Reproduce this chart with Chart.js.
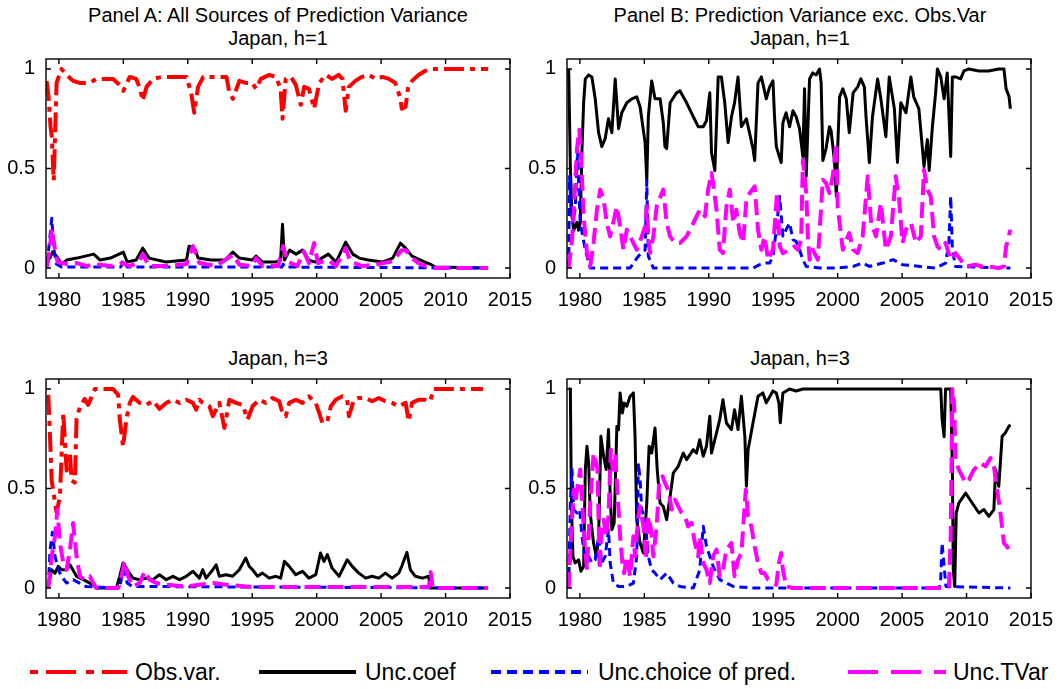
<!DOCTYPE html>
<html>
<head>
<meta charset="utf-8">
<script src="https://cdn.jsdelivr.net/npm/chart.js@4.4.0/dist/chart.umd.min.js"></script>
<style>
body { margin:0; background:#fff; width:1059px; height:689px; position:relative; overflow:hidden; font-family:"Liberation Sans", Arial, sans-serif; color:#000; }
.ttl { position:absolute; width:520px; text-align:center; font-size:20px; line-height:23px; }
canvas { position:absolute; }
.lt { position:absolute; top:658px; font-size:23px; line-height:28px; white-space:nowrap; }
</style>
</head>
<body>
<div class="ttl" style="left:18px;top:4px">Panel A: All Sources of Prediction Variance<br>Japan, h=1</div>
<div class="ttl" style="left:540px;top:4px">Panel B: Prediction Variance exc. Obs.Var<br>Japan, h=1</div>
<div class="ttl" style="left:18px;top:347px">Japan, h=3</div>
<div class="ttl" style="left:540px;top:347px">Japan, h=3</div>

<div style="position:absolute;left:0;top:50px;width:538px;height:275px"><canvas id="pA"></canvas></div>
<div style="position:absolute;left:521px;top:50px;width:538px;height:275px"><canvas id="pB"></canvas></div>
<div style="position:absolute;left:0;top:370px;width:538px;height:275px"><canvas id="pC"></canvas></div>
<div style="position:absolute;left:521px;top:370px;width:538px;height:275px"><canvas id="pD"></canvas></div>

<svg style="position:absolute;left:0;top:650px" width="1059" height="40">
  <line x1="30" y1="22" x2="127" y2="22" stroke="#ff0000" stroke-width="4" stroke-dasharray="8,8,30,10"/>
  <line x1="259" y1="22" x2="356" y2="22" stroke="#000000" stroke-width="4"/>
  <line x1="491" y1="22" x2="588" y2="22" stroke="#0000ff" stroke-width="4" stroke-dasharray="10,6"/>
  <line x1="848" y1="22" x2="946" y2="22" stroke="#ff00ff" stroke-width="4" stroke-dasharray="30,13"/>
</svg>
<div class="lt" style="left:135px">Obs.var.</div>
<div class="lt" style="left:365px">Unc.coef</div>
<div class="lt" style="left:598px">Unc.choice of pred.</div>
<div class="lt" style="left:953px">Unc.TVar</div>

<script>
const xTicks = [1980, 1985, 1990, 1995, 2000, 2005, 2010, 2015];
const yTicks = [0, 0.5, 1];

// Panel A: all sources, h=1  ([year, share])
const aObs = [[1979.05,0.94],[1979.2,0.86],[1979.35,0.71],[1979.45,0.66],[1979.6,0.44],[1979.82,0.93],[1980.2,1.0],[1980.6,0.97],[1981.1,0.94],[1981.6,0.93],[1982.4,0.93],[1982.9,0.95],[1983.7,0.95],[1984.2,0.95],[1984.7,0.92],[1985.0,0.89],[1985.5,0.96],[1986.0,0.95],[1986.3,0.9],[1986.5,0.84],[1986.8,0.91],[1987.3,0.95],[1988.0,0.96],[1988.85,0.96],[1989.9,0.96],[1990.26,0.88],[1990.5,0.78],[1990.8,0.91],[1991.2,0.96],[1992.0,0.96],[1993.0,0.96],[1993.2,0.89],[1993.5,0.85],[1994.0,0.94],[1994.5,0.93],[1995.0,0.93],[1995.3,0.9],[1995.67,0.95],[1996.32,0.97],[1996.84,0.96],[1997.2,0.9],[1997.35,0.75],[1997.6,0.95],[1998.0,0.96],[1998.38,0.92],[1998.77,0.82],[1999.03,0.91],[1999.4,0.9],[1999.8,0.8],[2000.2,0.93],[2000.7,0.97],[2001.2,0.95],[2001.7,0.97],[2002.0,0.95],[2002.25,0.79],[2002.5,0.91],[2003.0,0.94],[2003.5,0.96],[2004.05,0.97],[2004.6,0.95],[2005.1,0.96],[2005.6,0.95],[2006.1,0.93],[2006.5,0.85],[2006.6,0.8],[2006.9,0.81],[2007.1,0.91],[2007.4,0.94],[2007.9,0.97],[2008.4,0.99],[2009.0,1.0],[2009.5,1.0],[2011.0,1.0],[2013.3,1.0]];
const aCoef = [[1979.05,0.03],[1979.3,0.05],[1979.5,0.08],[1979.82,0.06],[1980.2,0.02],[1980.6,0.04],[1981.4,0.05],[1982.7,0.07],[1983.2,0.04],[1984.0,0.05],[1985.0,0.08],[1985.3,0.03],[1986.0,0.04],[1986.5,0.1],[1987.0,0.05],[1988.3,0.03],[1989.9,0.04],[1990.1,0.11],[1990.6,0.09],[1990.8,0.05],[1991.8,0.04],[1992.9,0.04],[1993.5,0.08],[1994.0,0.05],[1995.0,0.04],[1995.3,0.06],[1995.8,0.03],[1996.8,0.03],[1997.2,0.04],[1997.35,0.22],[1997.5,0.04],[1997.9,0.09],[1998.4,0.07],[1998.9,0.09],[1999.4,0.04],[1999.9,0.03],[2000.9,0.07],[2001.5,0.03],[2002.25,0.13],[2002.8,0.07],[2003.3,0.05],[2004.0,0.04],[2005.1,0.03],[2005.9,0.05],[2006.5,0.125],[2006.9,0.1],[2007.4,0.06],[2007.9,0.045],[2008.4,0.03],[2008.8,0.02],[2009.2,0.005],[2013.3,0]];
const aChoice = [[1979.05,0.02],[1979.2,0.09],[1979.45,0.25],[1979.6,0.1],[1979.8,0.02],[1980.2,0.005],[1984.8,0.005],[1985.0,0.04],[1985.3,0.005],[1997.3,0.005],[1997.4,0.02],[1997.5,0.005],[2013.3,0]];
const aTVar = [[1979.05,0.0],[1979.3,0.1],[1979.45,0.2],[1979.7,0.09],[1979.9,0.03],[1980.6,0.02],[1981.4,0.025],[1982.2,0.01],[1982.7,0.02],[1984.0,0.01],[1984.9,0.025],[1985.5,0.01],[1986.2,0.03],[1986.5,0.07],[1987.0,0.01],[1988.3,0.01],[1989.9,0.02],[1990.4,0.11],[1990.9,0.025],[1992.2,0.01],[1993.5,0.067],[1994.0,0.017],[1995.0,0.01],[1995.3,0.05],[1995.8,0.01],[1997.0,0.01],[1997.4,0.11],[1997.7,0.034],[1998.5,0.01],[1999.0,0.084],[1999.4,0.025],[1999.8,0.126],[2000.1,0.025],[2000.9,0.04],[2001.5,0.01],[2002.25,0.1],[2002.6,0.034],[2003.5,0.01],[2004.6,0.017],[2005.9,0.034],[2006.6,0.09],[2006.9,0.09],[2007.4,0.05],[2007.9,0.025],[2008.4,0.01],[2009.2,0],[2013.3,0]];

// Panel B: excluding obs. variance, h=1
const bCoef = [[1979.13,1.0],[1979.26,0.51],[1979.39,0.26],[1979.52,0.19],[1979.77,0.23],[1979.9,0.19],[1980.03,0.23],[1980.16,0.59],[1980.29,0.83],[1980.42,0.95],[1980.68,0.97],[1980.93,0.96],[1981.19,0.85],[1981.45,0.68],[1981.7,0.61],[1981.96,0.65],[1982.22,0.75],[1982.48,0.68],[1982.74,0.95],[1983.0,0.7],[1983.25,0.78],[1983.64,0.83],[1984.03,0.85],[1984.41,0.86],[1984.67,0.81],[1985.06,0.63],[1985.19,0.44],[1985.31,0.76],[1985.57,0.94],[1985.83,0.85],[1986.22,0.85],[1986.47,0.73],[1986.6,0.61],[1986.73,0.6],[1987.0,0.83],[1987.5,0.88],[1987.76,0.89],[1988.28,0.83],[1988.8,0.76],[1989.18,0.71],[1989.57,0.71],[1989.82,0.74],[1990.08,0.88],[1990.21,0.58],[1990.47,0.49],[1990.73,0.96],[1990.98,0.96],[1991.24,0.83],[1991.5,0.63],[1991.76,0.76],[1992.0,0.83],[1992.27,0.96],[1992.53,0.71],[1992.92,0.75],[1993.43,0.6],[1993.56,0.54],[1993.82,0.93],[1994.08,0.96],[1994.46,0.85],[1994.72,0.91],[1994.98,0.94],[1995.1,0.76],[1995.24,0.61],[1995.62,0.53],[1995.75,0.73],[1996.0,0.78],[1996.27,0.71],[1996.53,0.79],[1996.78,0.76],[1997.04,0.7],[1997.3,0.56],[1997.43,0.9],[1997.56,0.46],[1997.82,0.95],[1998.07,0.98],[1998.33,0.97],[1998.59,1.0],[1998.72,0.93],[1998.85,0.54],[1999.1,0.6],[1999.36,0.71],[1999.49,0.69],[1999.75,0.54],[1999.9,0.36],[2000.0,0.6],[2000.15,0.86],[2000.4,0.9],[2000.67,0.85],[2000.9,0.68],[2001.2,0.88],[2001.55,0.91],[2001.8,0.95],[2002.07,0.91],[2002.2,0.76],[2002.46,0.53],[2002.7,0.76],[2003.1,0.95],[2003.35,0.85],[2003.74,0.66],[2004.0,0.96],[2004.4,0.8],[2004.64,0.53],[2004.9,0.83],[2005.3,0.78],[2005.68,0.96],[2005.9,0.86],[2006.3,0.8],[2006.7,0.51],[2006.96,0.645],[2007.1,0.49],[2007.35,0.71],[2007.6,0.88],[2007.74,1.0],[2008.0,0.96],[2008.26,0.85],[2008.5,0.98],[2008.77,0.56],[2008.9,0.96],[2009.15,0.96],[2009.54,0.95],[2009.8,0.99],[2010.18,1.0],[2010.96,0.99],[2011.7,0.99],[2012.5,1.0],[2012.9,1.0],[2013.07,0.9],[2013.3,0.86],[2013.4,0.8]];
const bChoice = [[1979.13,0],[1979.2,0.46],[1979.3,0.31],[1979.46,0.23],[1979.64,0.3],[1979.82,0.59],[1979.95,0.35],[1980.03,0.23],[1980.42,0.09],[1980.8,0],[1983.9,0],[1984.15,0.025],[1984.54,0.06],[1985.06,0.09],[1985.19,0.44],[1985.31,0.06],[1985.7,0],[1993.43,0],[1993.95,0.017],[1994.46,0.025],[1994.72,0.025],[1994.98,0.059],[1995.24,0.193],[1995.5,0.36],[1995.75,0.16],[1996.0,0.193],[1996.27,0.226],[1996.53,0.142],[1996.78,0.134],[1997.04,0.092],[1997.3,0.042],[1997.56,0.008],[1998.6,0],[2000.0,0],[2001.2,0.008],[2001.94,0.025],[2002.46,0.008],[2003.5,0.025],[2004.3,0.042],[2005.03,0.017],[2007.6,0],[2008.37,0.025],[2008.63,0.126],[2008.77,0.36],[2008.9,0.092],[2009.15,0.008],[2013.4,0]];
const bTVar = [[1979.13,0],[1979.39,0.142],[1979.64,0.427],[1979.77,0.595],[1979.95,0.695],[1980.1,0.544],[1980.29,0.26],[1980.55,0.075],[1980.8,0.008],[1981.06,0.126],[1981.32,0.293],[1981.58,0.394],[1981.84,0.343],[1982.09,0.226],[1982.35,0.159],[1982.87,0.31],[1983.12,0.209],[1983.38,0.092],[1983.64,0.193],[1984.03,0.142],[1984.41,0.092],[1984.8,0.159],[1985.06,0.209],[1985.19,0.31],[1985.31,0.159],[1985.44,0.075],[1985.7,0.159],[1985.96,0.31],[1986.47,0.394],[1986.73,0.226],[1987.0,0.159],[1987.38,0.126],[1987.76,0.126],[1988.28,0.159],[1988.8,0.226],[1989.3,0.293],[1989.7,0.26],[1989.95,0.394],[1990.21,0.477],[1990.34,0.427],[1990.6,0.293],[1990.85,0.092],[1991.1,0.075],[1991.37,0.31],[1991.63,0.394],[1991.9,0.226],[1992.14,0.293],[1992.4,0.176],[1992.66,0.126],[1992.92,0.343],[1993.18,0.377],[1993.56,0.41],[1993.82,0.193],[1994.08,0.092],[1994.33,0.159],[1994.6,0.042],[1994.98,0.092],[1995.3,0.38],[1995.5,0.11],[1995.75,0.075],[1996.27,0.092],[1996.65,0.109],[1996.9,0.092],[1997.17,0.142],[1997.3,0.544],[1997.56,0.377],[1997.69,0.159],[1997.82,0.042],[1998.07,0.092],[1998.46,0.042],[1998.85,0.444],[1999.1,0.427],[1999.36,0.377],[1999.62,0.461],[1999.9,0.628],[2000.0,0.31],[2000.15,0.226],[2000.4,0.092],[2000.67,0.142],[2000.9,0.176],[2001.2,0.092],[2001.55,0.075],[2001.94,0.159],[2002.33,0.461],[2002.6,0.226],[2002.97,0.159],[2003.35,0.327],[2003.74,0.092],[2004.13,0.159],[2004.5,0.461],[2004.77,0.343],[2005.03,0.126],[2005.3,0.193],[2005.68,0.226],[2006.07,0.126],[2006.45,0.159],[2006.7,0.494],[2006.96,0.394],[2007.22,0.36],[2007.48,0.159],[2007.74,0.109],[2008.0,0.092],[2008.37,0.126],[2008.77,0.042],[2009.15,0.075],[2009.54,0.042],[2009.93,0.008],[2010.7,0.017],[2011.2,0.008],[2011.7,0.008],[2012.5,0],[2012.9,0.008],[2013.07,0.109],[2013.4,0.193]];

// Panel C: all sources, h=3
const cObs = [[1979.18,0.97],[1979.31,0.76],[1979.44,0.54],[1979.7,0.43],[1979.82,0.38],[1980.08,0.46],[1980.34,0.88],[1980.6,0.59],[1980.86,0.68],[1980.98,0.54],[1981.24,0.53],[1981.37,0.85],[1981.63,0.91],[1982.0,0.95],[1982.27,0.92],[1982.53,0.96],[1982.79,1.0],[1984.2,1.0],[1984.6,0.97],[1984.72,0.85],[1984.98,0.71],[1985.24,0.85],[1985.5,0.93],[1985.75,0.96],[1986.27,0.93],[1986.78,0.92],[1987.3,0.94],[1987.8,0.9],[1988.33,0.93],[1988.85,0.946],[1989.36,0.93],[1989.88,0.946],[1990.4,0.93],[1990.65,0.896],[1990.9,0.946],[1991.16,0.93],[1991.68,0.913],[1991.94,0.863],[1992.45,0.93],[1992.84,0.804],[1993.23,0.946],[1993.74,0.93],[1994.26,0.92],[1994.64,0.846],[1995.03,0.913],[1995.55,0.946],[1996.06,0.93],[1996.58,0.955],[1997.09,0.938],[1997.35,0.879],[1997.6,0.863],[1997.87,0.93],[1998.38,0.946],[1998.9,0.93],[1999.4,0.963],[1999.93,0.93],[2000.2,0.879],[2000.45,0.829],[2000.83,0.838],[2001.1,0.913],[2001.48,0.946],[2002.0,0.963],[2002.37,0.946],[2002.5,0.863],[2002.89,0.946],[2003.27,0.955],[2003.8,0.955],[2004.3,0.938],[2004.82,0.955],[2005.33,0.938],[2005.85,0.93],[2006.37,0.913],[2006.9,0.93],[2007.14,0.838],[2007.4,0.93],[2007.9,0.946],[2008.4,0.946],[2008.8,0.938],[2009.08,1.0],[2011.5,1.0],[2012.9,1.0]];
const cCoef = [[1979.18,0.008],[1979.44,0.092],[1979.7,0.075],[1979.95,0.109],[1980.2,0.092],[1980.6,0.092],[1980.86,0.117],[1981.37,0.059],[1981.9,0.042],[1982.4,0.025],[1982.66,0.017],[1982.9,0.0],[1984.46,0.0],[1984.72,0.059],[1984.98,0.126],[1985.37,0.084],[1985.75,0.05],[1986.27,0.042],[1986.78,0.05],[1987.3,0.042],[1987.8,0.067],[1988.33,0.042],[1988.85,0.059],[1989.36,0.042],[1989.88,0.059],[1990.4,0.084],[1990.9,0.05],[1991.16,0.092],[1991.42,0.05],[1991.94,0.092],[1992.2,0.117],[1992.45,0.059],[1992.97,0.067],[1993.48,0.059],[1994.0,0.092],[1994.5,0.151],[1994.77,0.109],[1995.03,0.092],[1995.42,0.059],[1995.8,0.075],[1996.32,0.05],[1996.84,0.059],[1997.2,0.05],[1997.5,0.134],[1997.87,0.109],[1998.38,0.067],[1998.9,0.084],[1999.4,0.05],[1999.93,0.067],[2000.3,0.176],[2000.57,0.134],[2000.83,0.168],[2001.2,0.1],[2001.74,0.059],[2002.37,0.142],[2002.76,0.109],[2003.27,0.075],[2003.8,0.05],[2004.3,0.059],[2004.82,0.05],[2005.33,0.075],[2005.85,0.05],[2006.37,0.075],[2006.6,0.109],[2007.0,0.179],[2007.27,0.092],[2007.66,0.059],[2008.2,0.05],[2008.7,0.059],[2008.8,0.0],[2013.3,0]];
const cChoice = [[1979.18,0.0],[1979.31,0.19],[1979.5,0.28],[1979.7,0.159],[1979.95,0.092],[1980.2,0.059],[1980.6,0.025],[1981.1,0.042],[1981.6,0.025],[1982.1,0.008],[1984.7,0],[1985.0,0.092],[1985.3,0.025],[1985.7,0.008],[2013.3,0]];
const cTVar = [[1979.18,0],[1979.44,0.159],[1979.7,0.26],[1979.88,0.394],[1980.08,0.226],[1980.34,0.126],[1980.6,0.092],[1980.86,0.193],[1981.1,0.327],[1981.37,0.159],[1981.63,0.059],[1982.0,0.042],[1982.4,0.059],[1982.66,0.025],[1982.9,0],[1984.6,0],[1984.85,0.059],[1985.1,0.134],[1985.37,0.059],[1985.75,0.008],[1986.27,0.025],[1986.65,0.084],[1987.04,0.042],[1987.56,0.025],[1988.33,0.017],[1989.88,0.008],[1990.9,0.017],[1991.94,0.025],[1992.97,0.017],[1995.03,0.005],[2008.7,0.005],[2008.85,0.08],[2009.0,0],[2013.3,0]];

// Panel D: excluding obs. variance, h=3
const dCoef = [[1979.13,1.0],[1979.26,1.0],[1979.34,0.427],[1979.46,0.159],[1979.64,0.126],[1979.9,0.142],[1980.08,0.084],[1980.29,0.109],[1980.42,0.595],[1980.55,0.712],[1980.68,0.628],[1980.8,0.377],[1981.06,0.226],[1981.27,0.159],[1981.45,0.243],[1981.63,0.762],[1981.84,0.662],[1982.04,0.595],[1982.22,0.796],[1982.35,0.461],[1982.48,0.293],[1982.66,0.327],[1982.87,0.812],[1983.0,0.796],[1983.12,0.98],[1983.3,0.879],[1983.43,0.93],[1983.64,0.913],[1983.9,0.963],[1984.15,0.98],[1984.28,0.762],[1984.41,0.343],[1984.67,0.226],[1984.93,0.176],[1985.19,0.427],[1985.37,0.712],[1985.57,0.678],[1985.83,0.804],[1986.0,0.595],[1986.22,0.427],[1986.47,0.41],[1986.73,0.343],[1987.0,0.461],[1987.25,0.578],[1987.63,0.611],[1988.02,0.678],[1988.28,0.645],[1988.8,0.695],[1989.05,0.678],[1989.3,0.745],[1989.57,0.662],[1989.82,0.712],[1990.08,0.863],[1990.21,0.678],[1990.6,0.779],[1990.85,0.846],[1991.1,0.946],[1991.37,0.829],[1991.76,0.796],[1992.0,0.896],[1992.27,0.796],[1992.53,0.963],[1992.8,0.762],[1992.92,0.511],[1993.05,0.695],[1993.43,0.829],[1993.82,0.963],[1994.2,0.98],[1994.46,0.93],[1994.98,0.99],[1995.24,0.98],[1995.44,0.93],[1995.55,0.83],[1995.75,0.98],[1996.27,1.0],[1996.78,0.99],[1997.3,1.0],[2007.6,1.0],[2008.0,1.0],[2008.1,0.85],[2008.26,0.76],[2008.37,1.0],[2008.77,1.0],[2008.9,0.595],[2008.97,0.092],[2009.08,0.008],[2009.2,0.377],[2009.4,0.427],[2009.93,0.477],[2010.44,0.427],[2010.96,0.377],[2011.35,0.394],[2011.73,0.36],[2012.12,0.394],[2012.25,0.595],[2012.5,0.511],[2012.76,0.762],[2013.0,0.779],[2013.28,0.812],[2013.4,0.82]];
const dChoice = [[1979.13,0],[1979.26,0.427],[1979.39,0.595],[1979.52,0.394],[1979.77,0.377],[1979.98,0.394],[1980.16,0.26],[1980.42,0.142],[1980.68,0.159],[1980.93,0.126],[1981.19,0.142],[1981.45,0.26],[1981.7,0.126],[1981.96,0.159],[1982.22,0.293],[1982.35,0.126],[1982.6,0.025],[1983.0,0.008],[1983.64,0.008],[1984.15,0.025],[1984.41,0.159],[1984.54,0.628],[1984.67,0.544],[1984.8,0.394],[1985.06,0.343],[1985.31,0.159],[1985.57,0.092],[1985.83,0.075],[1986.22,0.042],[1986.73,0.075],[1987.25,0.025],[1987.76,0.008],[1988.8,0],[1989.3,0.092],[1989.57,0.31],[1989.82,0.21],[1990.08,0.159],[1990.34,0.109],[1990.85,0.042],[1991.37,0.025],[1991.9,0.008],[1993.43,0],[2007.9,0],[2008.0,0.05],[2008.1,0.226],[2008.26,0.109],[2008.4,0.008],[2013.4,0]];
const dTVar = [[1979.13,0],[1979.31,0.26],[1979.52,0.494],[1979.64,0.427],[1979.82,0.511],[1980.03,0.595],[1980.21,0.394],[1980.37,0.226],[1980.55,0.092],[1980.8,0.427],[1981.06,0.678],[1981.19,0.645],[1981.37,0.595],[1981.53,0.092],[1981.65,0.26],[1981.84,0.343],[1982.04,0.26],[1982.22,0.36],[1982.4,0.695],[1982.56,0.595],[1982.74,0.662],[1982.92,0.477],[1983.12,0.26],[1983.3,0.126],[1983.43,0.075],[1983.64,0.159],[1983.9,0.059],[1984.15,0.26],[1984.28,0.159],[1984.54,0.36],[1984.67,0.41],[1984.93,0.31],[1985.13,0.142],[1985.31,0.36],[1985.52,0.293],[1985.7,0.159],[1985.96,0.31],[1986.16,0.544],[1986.42,0.561],[1986.6,0.528],[1986.86,0.494],[1987.12,0.394],[1987.38,0.444],[1987.63,0.41],[1987.9,0.377],[1988.15,0.36],[1988.4,0.31],[1988.66,0.327],[1988.92,0.226],[1989.18,0.159],[1989.3,0.26],[1989.57,0.126],[1989.82,0.092],[1990.08,0.025],[1990.34,0.159],[1990.6,0.193],[1990.85,0.059],[1991.1,0.092],[1991.37,0.193],[1991.76,0.226],[1992.0,0.059],[1992.27,0.142],[1992.53,0.176],[1992.87,0.494],[1993.05,0.36],[1993.3,0.31],[1993.56,0.209],[1993.82,0.126],[1994.08,0.075],[1994.33,0.075],[1994.6,0.042],[1994.98,0.025],[1995.24,0.017],[1995.44,0.126],[1995.62,0.176],[1995.75,0.092],[1996.0,0.008],[1996.53,0],[2008.37,0],[2008.63,0.008],[2008.77,0.26],[2008.9,1.0],[2009.03,0.93],[2009.15,0.645],[2009.4,0.595],[2009.67,0.561],[2009.93,0.528],[2010.18,0.544],[2010.57,0.595],[2011.1,0.628],[2011.47,0.611],[2011.86,0.653],[2012.12,0.611],[2012.37,0.494],[2012.63,0.377],[2012.9,0.226],[2013.14,0.209],[2013.34,0.176]];

const FONT = "'Liberation Sans', Arial, sans-serif";

const styles = {
  obs:    { color: '#ff0000', width: 4, dash: [20, 6, 5, 6], order: 4 },
  coef:   { color: '#000000', width: 3, dash: [], order: 3 },
  choice: { color: '#0000ff', width: 3, dash: [8, 5], order: 2 },
  tvar:   { color: '#ff00ff', width: 4, dash: [16, 7], order: 1 }
};

function ds(pairs, key) {
  const s = styles[key];
  return {
    data: pairs.map(p => ({ x: p[0], y: p[1] })),
    borderColor: s.color,
    borderWidth: s.width,
    borderDash: s.dash,
    borderCapStyle: 'butt',
    borderJoinStyle: 'round',
    pointRadius: 0,
    tension: 0,
    fill: false,
    order: s.order
  };
}

// MATLAB-style box with inward ticks on all four sides
const frame = {
  id: 'frame',
  afterDraw(chart) {
    const { ctx, chartArea: a, scales: { x, y } } = chart;
    ctx.save();
    ctx.strokeStyle = '#000';
    ctx.lineWidth = 1.4;
    ctx.strokeRect(a.left, a.top, a.right - a.left, a.bottom - a.top);
    ctx.beginPath();
    x.ticks.forEach(t => {
      const px = x.getPixelForValue(t.value);
      ctx.moveTo(px, a.bottom); ctx.lineTo(px, a.bottom - 5);
      ctx.moveTo(px, a.top); ctx.lineTo(px, a.top + 5);
    });
    y.ticks.forEach(t => {
      const py = y.getPixelForValue(t.value);
      ctx.moveTo(a.left, py); ctx.lineTo(a.left + 5, py);
      ctx.moveTo(a.right, py); ctx.lineTo(a.right - 5, py);
    });
    ctx.stroke();
    ctx.restore();
  }
};

function makePanel(id, datasets) {
  new Chart(document.getElementById(id), {
    type: 'line',
    data: { datasets: datasets },
    options: {
      responsive: true,
      maintainAspectRatio: false,
      animation: false,
      events: [],
      layout: { padding: { left: 0, right: 28, top: 9, bottom: 0 } },
      plugins: { legend: { display: false }, tooltip: { enabled: false } },
      scales: {
        x: {
          type: 'linear', min: 1979, max: 2015,
          grid: { display: false, drawTicks: false },
          border: { display: false },
          afterBuildTicks: s => { s.ticks = xTicks.map(v => ({ value: v })); },
          afterFit: s => { s.height = 47; s.paddingLeft = 0; s.paddingRight = 0; },
          ticks: { color: '#000', font: { family: FONT, size: 20 }, padding: 10, maxRotation: 0, autoSkip: false, callback: v => String(v) }
        },
        y: {
          min: -0.05, max: 1.05,
          grid: { display: false, drawTicks: false },
          border: { display: false },
          afterBuildTicks: s => { s.ticks = yTicks.map(v => ({ value: v })); },
          afterFit: s => { s.width = 46; s.paddingTop = 0; s.paddingBottom = 0; },
          ticks: { color: '#000', font: { family: FONT, size: 20 }, padding: 11, callback: v => String(v) }
        }
      }
    },
    plugins: [frame]
  });
}

makePanel('pA', [ds(aObs, 'obs'), ds(aCoef, 'coef'), ds(aChoice, 'choice'), ds(aTVar, 'tvar')]);
makePanel('pB', [ds(bCoef, 'coef'), ds(bChoice, 'choice'), ds(bTVar, 'tvar')]);
makePanel('pC', [ds(cObs, 'obs'), ds(cCoef, 'coef'), ds(cChoice, 'choice'), ds(cTVar, 'tvar')]);
makePanel('pD', [ds(dCoef, 'coef'), ds(dChoice, 'choice'), ds(dTVar, 'tvar')]);
</script>
</body>
</html>
